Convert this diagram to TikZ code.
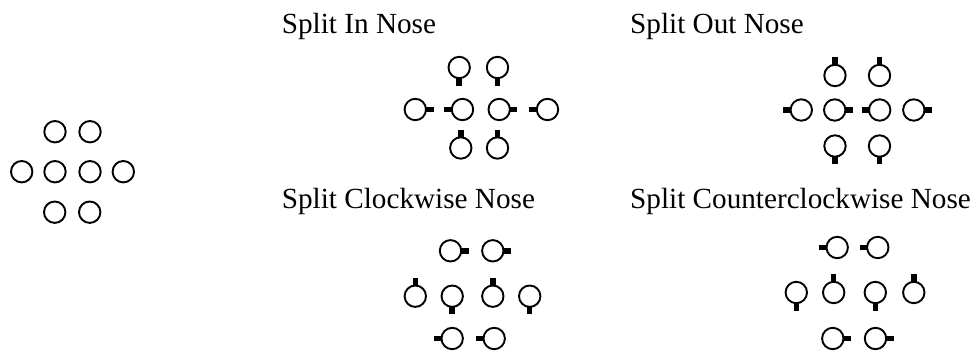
\documentclass[tikz,border=0pt]{standalone}
\usepackage{fontspec}
\setmainfont{Liberation Serif}
\newcommand\stubU[1]{\fill ([xshift=-2.75pt]#1.north) rectangle ++(5.5,-7.5);}
\newcommand\stubD[1]{\fill ([xshift=-2.75pt]#1.south) rectangle ++(5.5,7.5);}
\newcommand\stubL[1]{\fill ([yshift=2.75pt]#1.west) rectangle ++(-7.5,5.5);}
\newcommand\stubR[1]{\fill ([yshift=2.75pt]#1.east) rectangle ++(7.5,5.5);}
\begin{document}
\begin{tikzpicture}[x=1pt,y=-1pt,
  circ/.style={circle, draw, line width=1.9pt, minimum size=21.4pt, inner sep=0pt, outer sep=0pt},
  lbl/.style={anchor=base west, inner sep=0pt, font=\fontsize{29.2}{34}\selectfont}]
\useasboundingbox (0,0) rectangle (975,352);
% labels
\node[lbl] (t1) at (281.7,33.3) {Split In Nose};
\node[lbl] (t2) at (630,33.3) {Split Out Nose};
\node[lbl] (t3) at (281.7,208.3) {Split Clockwise Nose};
\node[lbl] (t4) at (630,208.3) {Split Counterclockwise Nose};
% plain group
\node[circ] (p1) at (55,131.7) {};
\node[circ] (p2) at (90,131.7) {};
\node[circ] (p3) at (21.7,171.7) {};
\node[circ] (p4) at (55,171.7) {};
\node[circ] (p5) at (90,171.7) {};
\node[circ] (p6) at (123.3,171.7) {};
\node[circ] (p7) at (54.7,212.2) {};
\node[circ] (p8) at (89.7,212.2) {};
% split in
\node[circ] (a1) at (459.2,67.5) {}; \stubD{a1}
\node[circ] (a2) at (497.5,67.5) {}; \stubD{a2}
\node[circ] (a3) at (415.3,109.5) {}; \stubR{a3}
\node[circ] (a4) at (462.5,109.5) {}; \stubL{a4}
\node[circ] (a5) at (499.2,109.5) {}; \stubR{a5}
\node[circ] (a6) at (547.5,109.5) {}; \stubL{a6}
\node[circ] (a7) at (460.8,148) {}; \stubU{a7}
\node[circ] (a8) at (497.5,148) {}; \stubU{a8}
% split out
\node[circ] (b1) at (835,75.5) {}; \stubU{b1}
\node[circ] (b2) at (879.5,75.5) {}; \stubU{b2}
\node[circ] (b3) at (801.3,110) {}; \stubL{b3}
\node[circ] (b4) at (834.7,110) {}; \stubR{b4}
\node[circ] (b5) at (879.7,110) {}; \stubL{b5}
\node[circ] (b6) at (913.8,110) {}; \stubR{b6}
\node[circ] (b7) at (835,146) {}; \stubD{b7}
\node[circ] (b8) at (879.5,146) {}; \stubD{b8}
% clockwise
\node[circ] (c1) at (450.5,250.8) {}; \stubR{c1}
\node[circ] (c2) at (492.8,250.8) {}; \stubR{c2}
\node[circ] (c3) at (415.3,296.2) {}; \stubU{c3}
\node[circ] (c4) at (452.2,296.2) {}; \stubD{c4}
\node[circ] (c5) at (492.8,296.2) {}; \stubU{c5}
\node[circ] (c6) at (529.7,296.2) {}; \stubD{c6}
\node[circ] (c7) at (452.2,338.5) {}; \stubL{c7}
\node[circ] (c8) at (494.2,338.5) {}; \stubL{c8}
% counterclockwise
\node[circ] (d1) at (837.2,247.5) {}; \stubL{d1}
\node[circ] (d2) at (877.8,247.5) {}; \stubL{d2}
\node[circ] (d3) at (796.3,292.5) {}; \stubD{d3}
\node[circ] (d4) at (833.7,292.5) {}; \stubU{d4}
\node[circ] (d5) at (875.3,292.5) {}; \stubD{d5}
\node[circ] (d6) at (913.8,292.5) {}; \stubU{d6}
\node[circ] (d7) at (832.8,338.5) {}; \stubR{d7}
\node[circ] (d8) at (875.5,338.5) {}; \stubR{d8}
\end{tikzpicture}
\end{document}
